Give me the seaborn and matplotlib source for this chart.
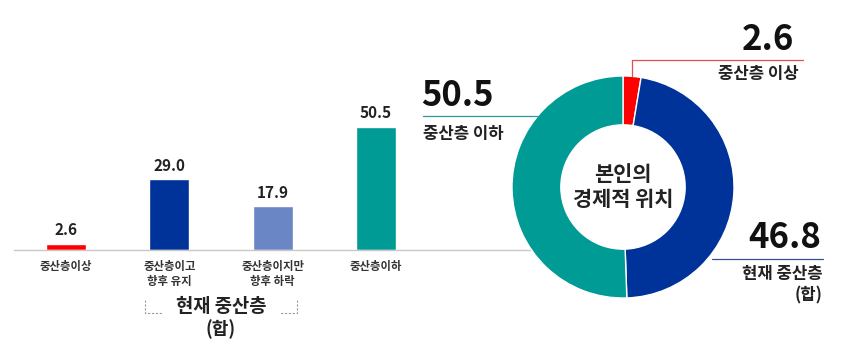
import matplotlib
matplotlib.use("Agg")
import matplotlib.pyplot as plt
from matplotlib.lines import Line2D
import seaborn as sns
import pandas as pd

# bar chart data
bar_labels = ["중산층이상", "중산층이고\n향후 유지", "중산층이지만\n향후 하락", "중산층이하"]
bar_values = [2.6, 29.0, 17.9, 50.5]
bar_colors = ["#ff0000", "#003399", "#6a86c4", "#009b95"]

# donut data (clockwise from top)
pie_names = ["중산층 이상", "현재 중산층\n(합)", "중산층 이하"]
pie_values = [2.6, 46.8, 50.5]
pie_colors = ["#ff0000", "#003399", "#009b95"]

sns.set_style("white")
plt.rcParams["font.family"] = ["Noto Sans CJK KR", "DejaVu Sans"]

W, H = 841, 354
fig = plt.figure(figsize=(W / 100, H / 100), dpi=100)


def fx(x):
    return x / W


def fy(y):
    return 1 - y / H


def rect(x0, y0, x1, y1):
    # pixel box (top-left origin) -> figure fractions
    return [x0 / W, 1 - y1 / H, (x1 - x0) / W, (y1 - y0) / H]


# ---- bar chart ----
ax = fig.add_axes(rect(14, 100, 537, 250))
ax.patch.set_alpha(0)
df = pd.DataFrame({"label": bar_labels, "value": bar_values})
sns.barplot(data=df, x="label", y="value", hue="label", palette=bar_colors,
            width=0.39, legend=False, ax=ax, saturation=1)
ax.set_xlim(-0.503, 4.558)
ax.set_ylim(0, 150 / 2.44)
for c in ax.containers:
    ax.bar_label(c, fmt="%.1f", padding=4, fontsize=11, fontweight="bold", color="#222222")
ax.set_xlabel("")
ax.set_ylabel("")
ax.set_yticks([])
ax.set_xticks(range(len(bar_labels)))
ax.set_xticklabels(bar_labels, fontsize=8.2, fontweight="bold", color="#333333", linespacing=1.2)
ax.tick_params(axis="x", length=0, pad=7)
sns.despine(ax=ax, left=True, top=True, right=True)
ax.spines["bottom"].set_color("#c8c8c8")
ax.spines["bottom"].set_linewidth(1)

# bracket under the two middle bars
dash = dict(color="#999999", lw=0.8, ls=(0, (2, 1.5)), transform=fig.transFigure)
fig.add_artist(Line2D([fx(145), fx(145), fx(163)], [fy(300), fy(313), fy(313)], **dash))
fig.add_artist(Line2D([fx(297), fx(297), fx(279)], [fy(300), fy(313), fy(313)], **dash))
fig.text(fx(221), fy(306), "현재 중산층", ha="center", va="center", fontsize=13.5,
         fontweight="bold", color="#222222")
fig.text(fx(221), fy(329), "(합)", ha="center", va="center", fontsize=13,
         fontweight="bold", color="#222222")

# ---- donut ----
r_px = 111
cx, cy = 623, 187
half = 1.08 * r_px
pax = fig.add_axes(rect(cx - half, cy - half, cx + half, cy + half))
pax.pie(pie_values, colors=pie_colors, startangle=90, counterclock=False, radius=1,
        wedgeprops=dict(width=0.44, edgecolor="white", linewidth=1))
pax.set_xlim(-1.08, 1.08)
pax.set_ylim(-1.08, 1.08)
pax.set_aspect("equal")
pax.axis("off")
pax.text(0, 0, "본인의\n경제적 위치", ha="center", va="center", fontsize=15,
         fontweight="bold", color="#222222", linespacing=1.2)

# callouts
ln = dict(lw=0.9, transform=fig.transFigure)
fig.add_artist(Line2D([fx(632), fx(632), fx(803)], [fy(76), fy(60), fy(60)], color="#e05050", **ln))
fig.text(fx(794), fy(39), f"{pie_values[0]:.1f}", ha="right", va="center", fontsize=25,
         fontweight="bold", color="#111111")
fig.text(fx(799), fy(74), pie_names[0], ha="right", va="center", fontsize=12,
         fontweight="bold", color="#222222")

fig.add_artist(Line2D([fx(423), fx(538)], [fy(116), fy(116)], color="#2a9a95", **ln))
fig.text(fx(421), fy(95), f"{pie_values[2]:.1f}", ha="left", va="center", fontsize=25,
         fontweight="bold", color="#111111")
fig.text(fx(423), fy(134), pie_names[2], ha="left", va="center", fontsize=12,
         fontweight="bold", color="#222222")

fig.add_artist(Line2D([fx(712), fx(823)], [fy(259), fy(259)], color="#3a4f9a", **ln))
fig.text(fx(821), fy(238), f"{pie_values[1]:.1f}", ha="right", va="center", fontsize=25,
         fontweight="bold", color="#111111")
fig.text(fx(823), fy(285), pie_names[1], ha="right", va="center", fontsize=12,
         fontweight="bold", color="#222222", linespacing=1.25, multialignment="right")

fig.savefig("out.png", dpi=100)
